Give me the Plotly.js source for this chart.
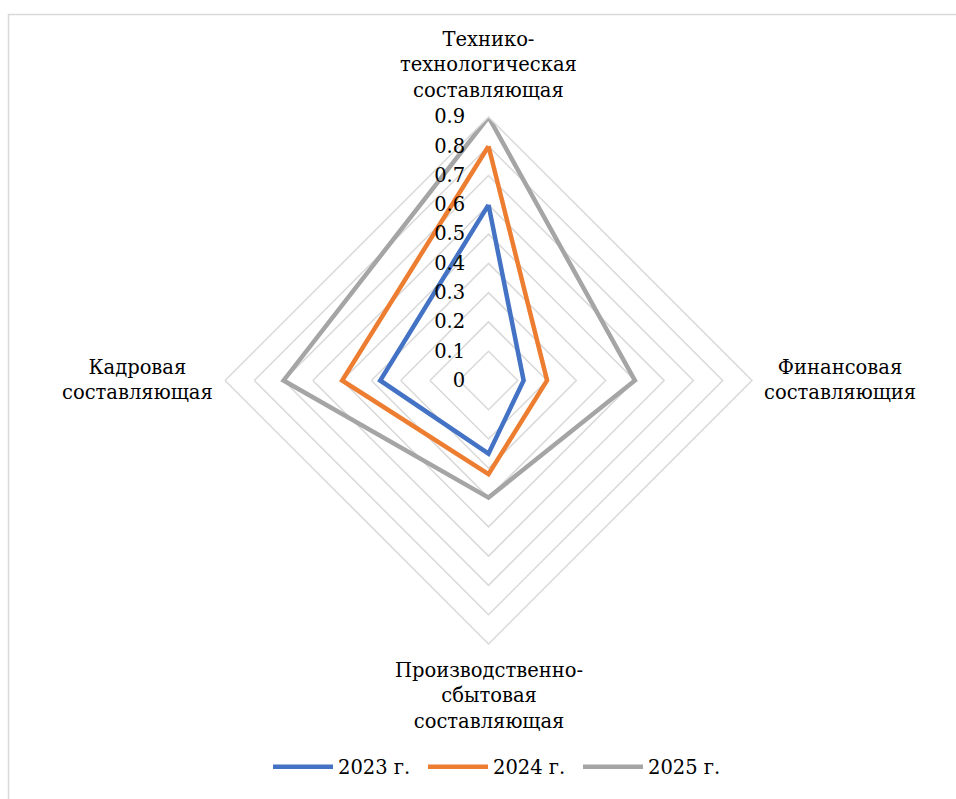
<!DOCTYPE html>
<html>
<head>
<meta charset="utf-8">
<script src="https://cdn.plot.ly/plotly-3.0.1.min.js"></script>
<style>html,body{margin:0;padding:0;background:#fff;}#chart{width:956px;height:799px;}</style>
</head>
<body>
<div id="chart"></div>
<script>
var categories = ["Технико-<br>технологическая<br>составляющая", "Финансовая<br>составляющия", "Производственно-<br>сбытовая<br>составляющая", "Кадровая<br>составляющая"];
var seriesNames = ["2023 г.", "2024 г.", "2025 г."];
var values2023 = [0.6, 0.12, 0.25, 0.37];
var values2024 = [0.8, 0.2, 0.32, 0.5];
var values2025 = [0.9, 0.5, 0.4, 0.7];
var radialTicks = [0, 0.1, 0.2, 0.3, 0.4, 0.5, 0.6, 0.7, 0.8, 0.9];
var colors = ["#4472C4", "#ED7D31", "#A5A5A5"];

var W = 956, H = 799;
var domX = [0.2354, 0.7866], domY = [0.194, 0.8536];

var allValues = [values2023, values2024, values2025];
var traces = allValues.map(function (vals, i) {
  return {
    type: "scatterpolar",
    mode: "lines",
    r: vals.concat([vals[0]]),
    theta: categories.concat([categories[0]]),
    name: seriesNames[i],
    line: { color: colors[i], width: 4.5 },
    hoverinfo: "skip"
  };
});

function mkFont(s) { return { family: "DejaVu Serif", size: s || 19.5, color: "#000" }; }

// category labels placed just outside each polygon vertex (clockwise from top)
var cx = (domX[0] + domX[1]) / 2, cy = (domY[0] + domY[1]) / 2;
var rx = (domX[1] - domX[0]) / 2, ry = (domY[1] - domY[0]) / 2;
var gapX = 10, gapY = 13;
var annotations = categories.map(function (c, i) {
  var ang = (90 - 90 * i) * Math.PI / 180;
  var ca = Math.round(Math.cos(ang)), sa = Math.round(Math.sin(ang));
  return {
    xref: "paper", yref: "paper",
    x: cx + rx * ca, y: cy + ry * sa,
    xshift: gapX * ca, yshift: gapY * sa,
    xanchor: ca > 0 ? "left" : (ca < 0 ? "right" : "center"),
    yanchor: sa > 0 ? "bottom" : (sa < 0 ? "top" : "middle"),
    align: "center",
    text: c,
    showarrow: false,
    font: mkFont(19.5)
  };
});

var layout = {
  width: W,
  height: H,
  margin: { l: 0, r: 0, t: 0, b: 0 },
  paper_bgcolor: "#fff",
  font: mkFont(),
  showlegend: true,
  legend: {
    orientation: "h",
    x: 268 / W,
    xanchor: "left",
    y: 0.04,
    yanchor: "middle",
    font: mkFont(19.5),
    itemwidth: 60,
    entrywidth: 80,
    entrywidthmode: "pixels",
    tracegroupgap: 0
  },
  polar: {
    domain: { x: domX, y: domY },
    gridshape: "linear",
    bgcolor: "rgba(0,0,0,0)",
    angularaxis: {
      type: "category",
      categoryarray: categories,
      rotation: 90,
      direction: "clockwise",
      showgrid: false,
      showline: true,
      linecolor: "#d9d9d9",
      linewidth: 1.5,
      ticks: "",
      showticklabels: false
    },
    radialaxis: {
      range: [0, 0.9],
      tickvals: radialTicks,
      ticktext: radialTicks.map(String),
      angle: 90,
      side: "counterclockwise",
      tickangle: 90,
      showline: false,
      ticks: "outside",
      ticklen: 16,
      tickcolor: "rgba(0,0,0,0)",
      showgrid: true,
      gridcolor: "#d9d9d9",
      gridwidth: 1.5,
      tickfont: mkFont(19.5)
    }
  },
  annotations: annotations,
  shapes: [{
    type: "rect", xref: "paper", yref: "paper",
    x0: 8.5 / W, x1: 1.02, y0: -0.02, y1: 1 - 14.5 / H,
    line: { color: "#d9d9d9", width: 1.5 }, fillcolor: "rgba(0,0,0,0)", layer: "below"
  }]
};

Plotly.newPlot("chart", traces, layout, { staticPlot: true });
</script>
</body>
</html>
